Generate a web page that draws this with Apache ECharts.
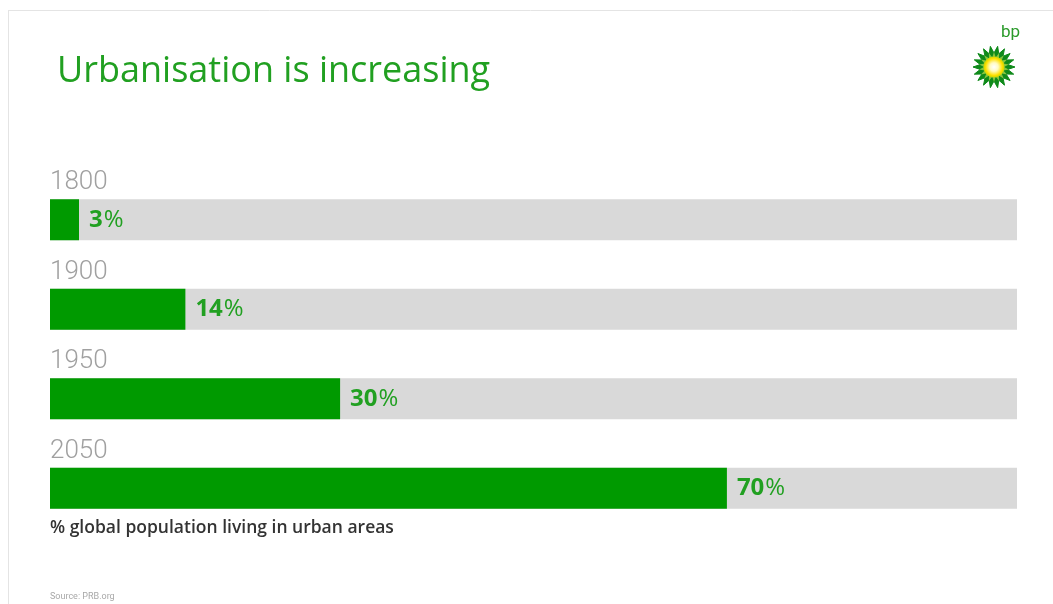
<!DOCTYPE html>
<html>
<head>
<meta charset="utf-8">
<script src="https://cdn.jsdelivr.net/npm/echarts@6/dist/echarts.min.js"></script>
<style>
  html, body { margin: 0; padding: 0; background: #ffffff; }
  #chart { width: 1053px; height: 604px; }
</style>
</head>
<body>
<div id="chart"></div>
<script>
// Share of global population living in urban areas
const years = ['1800', '1900', '1950', '2050'];
const urbanShare = [3, 14, 30, 70];
const scaleMax = 100;

const GREEN_BAR = '#009a00';
const GREEN_TEXT = '#21a021';
const FONT = 'Roboto, "Liberation Sans", Arial, sans-serif';
const FONT_WIDE = '"Open Sans", "Liberation Sans", Arial, sans-serif';

// bp helios mark: two rings of petals around a yellow/white sun
function petalRing(cx, cy, rOut, rIn, n, rot) {
  const pts = [];
  for (let i = 0; i < n * 2; i++) {
    const r = i % 2 === 0 ? rOut : rIn;
    const a = rot + (Math.PI * i) / n;
    pts.push([cx + r * Math.cos(a), cy + r * Math.sin(a)]);
  }
  return pts;
}
const LOGO_X = 994, LOGO_Y = 67;

const chart = echarts.init(document.getElementById('chart'), null, { renderer: 'canvas' });

chart.setOption({
  animation: false,
  backgroundColor: '#ffffff',
  grid: { left: 50, right: 36, top: 175, bottom: 71, containLabel: false },
  xAxis: {
    type: 'value',
    min: 0,
    max: scaleMax,
    show: false
  },
  yAxis: {
    type: 'category',
    data: years,
    inverse: true,
    axisLine: { show: false },
    axisTick: { show: false },
    splitLine: { show: false },
    axisLabel: {
      inside: true,
      margin: 0,
      align: 'left',
      verticalAlign: 'bottom',
      padding: [0, 0, 24, 0],
      fontFamily: FONT,
      fontWeight: 300,
      fontSize: 26,
      color: '#a0a0a0'
    },
    z: 5
  },
  series: [{
    type: 'bar',
    data: urbanShare,
    barWidth: 41,
    itemStyle: { color: GREEN_BAR },
    showBackground: true,
    backgroundStyle: { color: '#d9d9d9' },
    label: {
      show: true,
      position: 'right',
      distance: 10,
      formatter: p => '{v|' + p.value + '}{p|%}',
      rich: {
        v: { fontFamily: FONT_WIDE, fontSize: 24, fontWeight: 'bold', color: GREEN_TEXT },
        p: { fontFamily: FONT_WIDE, fontSize: 24, fontWeight: 500, color: GREEN_TEXT, padding: [0, 0, 0, 1] }
      }
    }
  }],
  graphic: [
    // thin frame along the top and left
    { type: 'line', shape: { x1: 8, y1: 10.5, x2: 1053, y2: 10.5 }, style: { stroke: '#e4e4e4', lineWidth: 1 } },
    { type: 'line', shape: { x1: 8.5, y1: 10, x2: 8.5, y2: 604 }, style: { stroke: '#e4e4e4', lineWidth: 1 } },
    {
      type: 'text', left: 57, top: 54,
      style: { text: 'Urbanisation is increasing', fontFamily: FONT_WIDE, fontSize: 36, fontWeight: 400, fill: GREEN_TEXT }
    },
    {
      type: 'text', left: 50, top: 519,
      style: { text: '% global population living in urban areas', fontFamily: FONT_WIDE, fontSize: 17.5, fontWeight: 600, fill: '#333333' }
    },
    {
      type: 'text', left: 50, top: 592,
      style: { text: 'Source: PRB.org', fontFamily: FONT, fontSize: 9, fill: '#a8a8a8' }
    },
    // logo
    {
      type: 'text', left: 1001, top: 24,
      style: { text: 'bp', fontFamily: FONT, fontSize: 17, fontWeight: 400, fill: '#2a9a2a' }
    },
    {
      type: 'polygon',
      shape: { points: petalRing(LOGO_X, LOGO_Y, 21, 14, 18, 0) },
      style: { fill: '#0f8a1a', lineJoin: 'round', stroke: '#0f8a1a', lineWidth: 1 }
    },
    {
      type: 'polygon',
      shape: { points: petalRing(LOGO_X, LOGO_Y, 15, 10, 18, Math.PI / 18) },
      style: { fill: '#86c440' }
    },
    {
      type: 'circle',
      shape: { cx: LOGO_X, cy: LOGO_Y, r: 10.5 },
      style: {
        fill: new echarts.graphic.RadialGradient(0.5, 0.5, 0.5, [
          { offset: 0, color: '#ffffff' },
          { offset: 0.4, color: '#fffbc0' },
          { offset: 0.8, color: '#ffe000' },
          { offset: 1, color: '#c8d400' }
        ])
      }
    }
  ]
});
</script>
</body>
</html>
